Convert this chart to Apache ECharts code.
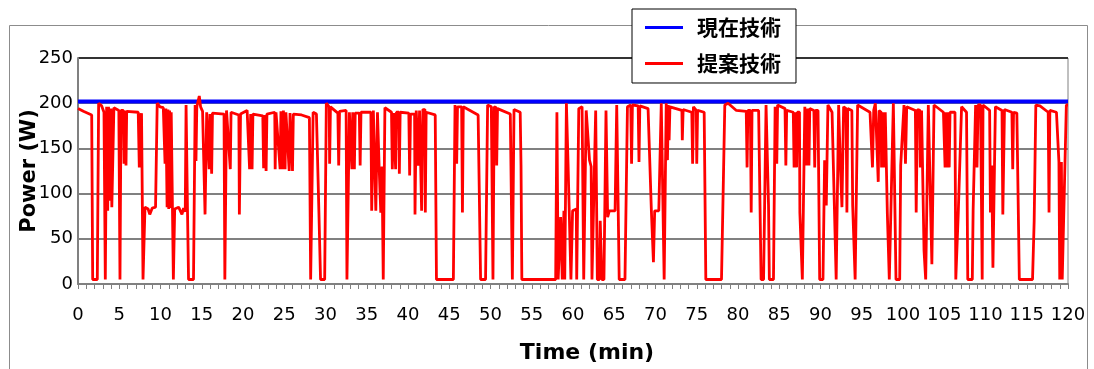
<!DOCTYPE html>
<html><head><meta charset="utf-8">
<script src="https://cdn.jsdelivr.net/npm/echarts@6/dist/echarts.min.js"></script>
<style>html,body{margin:0;padding:0;background:#fff}#c{width:1094px;height:369px}</style>
</head><body><div id="c"></div>
<script>
const seriesNames = ['現在技術', '提案技術'];
const xAxisTitle = 'Time (min)';
const yAxisTitle = 'Power (W)';
const xRange = [0, 120, 5];
const yRange = [0, 250, 50];

const currentTime = [0, 120];
const currentW = [202, 202];

const proposedTime = [
0,0.65,1.66,1.78,2.34,2.5,2.87,3.15,3.31,3.47,3.6,3.7,3.8,3.9,4.0,4.1,4.25,4.35,4.45,4.95,
5.09,5.21,5.5,5.58,5.66,5.82,5.9,7.3,7.43,7.55,7.6,7.7,7.88,8.12,8.5,8.7,9.0,9.4,9.6,9.94,
10.34,10.55,10.65,10.8,10.9,11.0,11.1,11.2,11.3,11.56,11.72,12.2,12.6,12.8,13.0,13.1,13.27,13.4,14.0,14.2,
14.3,14.4,14.7,14.86,15.1,15.4,15.6,15.9,16.0,16.2,16.3,17.7,17.8,18.0,18.46,18.55,19.5,19.56,19.7,20.5,
20.8,20.93,21.1,21.2,22.4,22.5,22.6,22.8,22.9,23.1,23.85,23.9,24.0,24.5,24.6,24.8,24.9,25.1,25.2,25.6,
25.7,26.0,26.1,27.1,28.05,28.2,28.5,28.9,29.2,29.4,29.9,30.1,30.45,30.5,30.6,31.5,31.6,31.7,32.5,32.6,
32.9,33.1,33.2,33.3,33.45,33.5,33.6,34.1,34.2,34.3,35.5,35.6,35.8,36.0,36.1,36.3,36.5,36.7,36.85,37.0,
37.2,38.0,38.1,38.25,38.5,38.6,38.9,38.95,39.05,40.1,40.2,40.3,40.8,40.85,41.0,41.2,41.25,41.4,41.6,41.65,
41.8,42.05,42.1,42.2,43.3,43.45,45.5,45.7,45.85,45.9,46.0,46.5,46.6,46.7,47.3,47.9,48.5,48.8,49.4,49.65,
50.1,50.3,50.45,50.7,50.75,50.85,52.4,52.65,52.85,53.6,53.7,53.8,57.9,58.05,58.2,58.5,58.7,58.9,59.0,59.2,
59.4,59.75,59.95,60.4,60.45,60.7,61.1,61.3,61.6,62.0,62.2,62.3,62.5,62.75,62.95,63.2,63.3,63.5,63.75,64.0,
64.2,64.4,65.1,65.3,65.6,66.3,66.6,67.0,67.1,67.2,67.9,68.0,68.1,69.1,69.5,69.75,69.9,70.4,70.7,71.05,
71.3,71.45,71.55,71.65,71.75,73.2,73.25,73.35,74.4,74.5,74.6,74.95,75.0,75.1,75.9,76.1,78.0,78.4,78.8,79.8,
81.0,81.1,81.2,81.5,81.6,81.7,82.5,82.8,83.1,83.4,83.7,83.8,84.3,84.5,84.65,84.7,84.8,85.7,85.8,85.9,
86.7,86.8,86.9,87.05,87.1,87.2,87.45,87.5,87.8,88.1,88.3,88.45,88.6,88.7,89.2,89.3,89.4,89.7,89.9,90.3,
90.5,90.7,90.9,91.4,91.9,92.2,92.4,92.6,92.8,93.1,93.2,93.3,93.8,93.9,94.2,94.5,96.0,96.3,96.45,96.65,
97.0,97.1,97.35,97.4,97.55,97.65,97.7,97.85,98.1,98.34,98.83,99.15,99.6,99.72,100.12,100.3,100.45,101.5,101.6,101.75,
102.05,102.1,102.25,102.45,102.55,102.75,103.07,103.35,103.5,103.76,104.9,105.1,105.2,105.3,105.4,105.6,105.7,106.3,106.4,106.7,
107.1,107.7,107.85,108.4,108.5,108.8,108.97,109.1,109.4,109.6,109.7,110.5,110.6,110.75,110.9,111.2,112.0,112.1,112.3,113.2,
113.3,113.4,113.8,114.1,115.7,115.9,116.1,116.6,117.6,117.7,117.8,118.6,118.9,119.0,119.2,119.3,119.5,119.8,120
];
const proposedW = [
194,191,187,5,5,200,197,190,5,196,81,196,195,92,194,85,83,195,193,192,
5,192,192,133,192,131,191,190,129,189,130,189,5,85,83,77,84,85,200,196,
195,133,194,85,193,83,192,84,190,5,83,85,77,84,80,198,83,5,5,198,
136,196,208,196,191,77,190,127,188,122,189,188,5,192,127,190,187,77,188,192,
127,188,127,188,186,128,187,125,188,190,190,127,190,127,191,127,192,127,190,125,
189,125,188,187,184,5,190,188,80,5,5,200,196,133,196,189,131,191,192,5,
190,190,127,190,190,127,189,189,131,190,190,81,192,191,81,190,130,79,130,5,
195,190,127,189,127,190,190,122,190,189,120,188,188,77,192,192,131,192,192,81,
193,193,79,190,187,5,5,198,197,133,196,196,79,196,193,190,187,5,5,198,
196,5,196,195,131,194,188,5,193,190,131,5,5,190,5,74,5,81,5,200,
133,5,81,83,5,194,196,5,192,137,130,5,5,192,5,5,70,5,5,192,
74,81,81,198,5,5,196,198,133,198,197,135,197,194,81,24,81,81,200,5,
200,137,198,159,196,192,159,193,190,133,196,192,133,192,190,5,5,198,200,192,
191,129,192,192,79,192,192,5,5,198,87,5,5,196,196,133,198,194,131,192,
190,129,190,190,129,190,190,79,5,196,131,194,131,194,192,129,192,192,5,5,
137,87,198,190,5,198,133,85,196,194,79,194,192,87,5,198,190,129,192,200,
113,192,190,129,190,190,129,190,79,5,200,5,5,131,198,133,196,192,79,193,
192,129,192,191,37,5,198,82,22,198,190,129,190,129,190,129,190,190,5,79,
196,190,5,5,81,198,129,198,198,5,198,192,79,131,18,196,192,77,193,190,
127,190,189,5,5,70,198,197,190,79,192,190,135,5,135,5,5,198,198
];

const pair = (xs, ys) => xs.map((x, i) => [x, ys[i]]);
const FONT = 'DejaVu Sans';
const GRID = '#808080';

const chart = echarts.init(document.getElementById('c'), null, {renderer: 'canvas'});
chart.setOption({
  animation: false,
  backgroundColor: '#fff',
  graphic: [{
    type: 'rect', z: 0, silent: true,
    shape: {x: 9.5, y: 25.5, width: 1078, height: 400},
    style: {fill: 'none', stroke: '#8c8c8c', lineWidth: 1}
  }],
  grid: {left: 78, right: 26, top: 58, bottom: 85, show: true, borderColor: GRID, borderWidth: 1, backgroundColor: 'transparent'},
  legend: {
    orient: 'vertical', left: 632, top: 9, z: 10,
    padding: [8, 15, 9, 13], itemGap: 15,
    itemWidth: 38, itemHeight: 3, icon: 'rect',
    backgroundColor: '#fff', borderColor: '#000', borderWidth: 1,
    textStyle: {fontFamily: 'Noto Sans CJK JP', fontWeight: 'bold', fontSize: 21, color: '#000', padding: [0, 0, 0, 9]},
    data: seriesNames
  },
  xAxis: {
    type: 'value', min: xRange[0], max: xRange[1], interval: xRange[2],
    name: xAxisTitle, nameLocation: 'middle', nameGap: 58,
    nameTextStyle: {fontFamily: FONT, fontWeight: 'bold', fontSize: 22, color: '#000', padding: [0, 0, 0, 28]},
    axisLine: {show: true, onZero: false, lineStyle: {color: GRID, width: 2}},
    axisTick: {show: true, length: 5, lineStyle: {color: GRID, width: 1}},
    minorTick: {show: true, splitNumber: 5, length: 5, lineStyle: {color: GRID, width: 1}},
    splitLine: {show: false},
    axisLabel: {fontFamily: FONT, fontSize: 18, color: '#000', margin: 22}
  },
  yAxis: {
    type: 'value', min: yRange[0], max: yRange[1], interval: yRange[2],
    name: yAxisTitle, nameLocation: 'middle', nameGap: 38, nameMoveOverlap: false,
    nameTextStyle: {fontFamily: FONT, fontWeight: 'bold', fontSize: 21, color: '#000'},
    axisLine: {show: true, lineStyle: {color: GRID, width: 2}},
    axisTick: {show: false},
    splitLine: {show: true, lineStyle: {color: [GRID, GRID, GRID, GRID, GRID, '#333333'], width: 2}},
    axisLabel: {fontFamily: FONT, fontSize: 18, color: '#000', margin: 5}
  },
  series: [
    {name: seriesNames[0], type: 'line', data: pair(currentTime, currentW), showSymbol: false, symbol: 'none',
     lineStyle: {color: '#0000ff', width: 4}, itemStyle: {color: '#0000ff'}, z: 2},
    {name: seriesNames[1], type: 'line', data: pair(proposedTime, proposedW), showSymbol: false, symbol: 'none',
     lineStyle: {color: '#ff0000', width: 2.8}, itemStyle: {color: '#ff0000'}, z: 3}
  ]
});
</script></body></html>
